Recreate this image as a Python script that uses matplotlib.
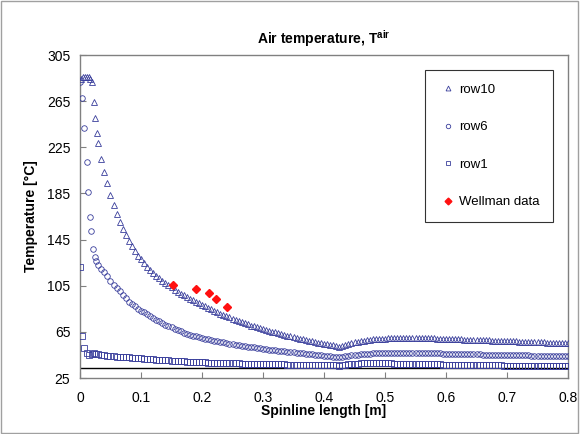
import numpy as np
import matplotlib
matplotlib.use("Agg")
import matplotlib.pyplot as plt
from matplotlib.patches import Rectangle

plt.rcParams['font.family'] = ['Liberation Sans', 'DejaVu Sans']
plt.rcParams['mathtext.fontset'] = 'custom'
plt.rcParams['mathtext.rm'] = 'Liberation Sans'
plt.rcParams['mathtext.bf'] = 'Liberation Sans:bold'

# spinline positions, dense grid after the first few points
x_dense = np.round(np.arange(0.03, 0.8001, 0.005), 3)

# row10 (triangles)
row10_x_start = [0.002, 0.005, 0.008, 0.011, 0.014, 0.017, 0.020, 0.023, 0.025, 0.028]
row10_y_start = [284, 285.5, 286, 286, 285.5, 284.5, 282, 264, 250, 237]
row10_y = [
    229, 215, 204, 194, 184, 175, 167, 160, 154, 149,
    144, 139.5, 135, 131, 128, 124.5, 121.5, 118.5, 116, 113.5,
    111.5, 109.5, 107.5, 105.5, 103.5, 101.5, 99.8, 98.2, 96.7, 95.2,
    93.8, 92.4, 91, 89.6, 88.3, 87, 85.7, 84.4, 83.1, 81.9,
    80.8, 79.7, 78.6, 77.5, 76.4, 75.3, 74.3, 73.3, 72.3, 71.4,
    70.5, 69.7, 68.9, 68.1, 67.3, 66.6, 65.9, 65.2, 64.5, 63.8,
    63.1, 62.4, 61.7, 61, 60.3, 59.7, 59.1, 58.5, 57.9, 57.3,
    56.8, 56.2, 55.7, 55.2, 54.7, 54.2, 53.7, 53.2, 52.7, 52.3,
    52.8, 53.8, 54.7, 55.4, 56, 56.5, 57, 57.4, 57.8, 58.1,
    58.4, 58.6, 58.8, 59, 59.2, 59.3, 59.4, 59.5, 59.6, 59.7,
    59.7, 59.8, 59.8, 59.8, 59.8, 59.7, 59.7, 59.6, 59.5, 59.4,
    59.3, 59.2, 59.1, 59, 58.9, 58.8, 58.7, 58.6, 58.5, 58.4,
    58.3, 58.2, 58.1, 58, 58, 57.9, 57.8, 57.7, 57.6, 57.5,
    57.4, 57.3, 57.2, 57.1, 57, 56.9, 56.8, 56.7, 56.6, 56.5,
    56.4, 56.3, 56.2, 56.1, 56, 55.9, 55.8, 55.7, 55.6, 55.5,
    55.4, 55.3, 55.2, 55.1, 55,
]

# row6 (circles)
row6_x_start = [0.0, 0.004, 0.007, 0.011, 0.013, 0.016, 0.018, 0.021, 0.024, 0.027]
row6_y_start = [282, 268, 242, 212, 186, 165, 152, 137, 130, 126]
row6_y = [
    123, 119.5, 116.5, 113, 109.5, 106, 103, 100, 97, 94,
    91, 89, 87, 85.2, 83.5, 81.8, 80.2, 78.6, 77, 75.5,
    74, 72.5, 71.2, 70, 68.8, 67.6, 66.5, 65.4, 64.4, 63.5,
    62.6, 61.8, 61, 60.3, 59.7, 59.1, 58.5, 57.9, 57.3, 56.8,
    56.3, 55.8, 55.3, 54.8, 54.3, 53.9, 53.5, 53.1, 52.7, 52.3,
    51.9, 51.5, 51.1, 50.7, 50.3, 50, 49.7, 49.4, 49.1, 48.8,
    48.5, 48.2, 47.9, 47.6, 47.3, 47, 46.7, 46.4, 46.1, 45.8,
    45.5, 45.2, 44.9, 44.6, 44.3, 44, 43.7, 43.4, 43.1, 42.8,
    43.2, 43.8, 44.3, 44.7, 45, 45.3, 45.6, 45.8, 46, 46.2,
    46.3, 46.4, 46.5, 46.6, 46.7, 46.7, 46.8, 46.8, 46.8, 46.8,
    46.8, 46.8, 46.7, 46.7, 46.7, 46.6, 46.6, 46.5, 46.5, 46.4,
    46.4, 46.3, 46.3, 46.2, 46.1, 46, 46, 45.9, 45.8, 45.8,
    45.7, 45.6, 45.6, 45.5, 45.4, 45.4, 45.3, 45.3, 45.2, 45.2,
    45.1, 45.1, 45, 45, 44.9, 44.9, 44.8, 44.8, 44.7, 44.7,
    44.6, 44.6, 44.5, 44.5, 44.4, 44.4, 44.3, 44.3, 44.2, 44.2,
    44.1, 44.1, 44, 44, 44,
]

# row1 (squares)
row1_x_start = [0.0, 0.003, 0.007, 0.011, 0.015, 0.019, 0.023, 0.027]
row1_y_start = [121, 61.5, 51, 47, 45, 45.5, 46.5, 46]
row1_y = [
    45.5, 45, 44.6, 44.3, 44, 43.8, 43.6, 43.4, 43.2, 43,
    42.8, 42.6, 42.4, 42.2, 42, 41.8, 41.6, 41.4, 41.2, 41,
    40.8, 40.6, 40.4, 40.2, 40, 39.8, 39.7, 39.5, 39.4, 39.2,
    39.1, 38.9, 38.8, 38.7, 38.6, 38.5, 38.4, 38.3, 38.2, 38.1,
    38, 37.9, 37.8, 37.8, 37.7, 37.6, 37.6, 37.5, 37.4, 37.4,
    37.3, 37.3, 37.2, 37.2, 37.1, 37.1, 37, 37, 36.9, 36.9,
    36.8, 36.8, 36.7, 36.7, 36.6, 36.6, 36.5, 36.5, 36.4, 36.4,
    36.3, 36.3, 36.2, 36.2, 36.1, 36.1, 36, 36, 35.9, 35.8,
    36.2, 36.6, 37, 37.2, 37.4, 37.5, 37.6, 37.6, 37.7, 37.7,
    37.7, 37.7, 37.7, 37.7, 37.6, 37.6, 37.6, 37.5, 37.5, 37.4,
    37.4, 37.3, 37.3, 37.2, 37.2, 37.1, 37.1, 37, 37, 36.9,
    36.9, 36.8, 36.8, 36.7, 36.7, 36.6, 36.6, 36.5, 36.5, 36.4,
    36.4, 36.3, 36.3, 36.2, 36.2, 36.1, 36.1, 36, 36, 36,
    35.9, 35.9, 35.9, 35.8, 35.8, 35.8, 35.7, 35.7, 35.7, 35.6,
    35.6, 35.6, 35.5, 35.5, 35.5, 35.4, 35.4, 35.4, 35.3, 35.3,
    35.3, 35.2, 35.2, 35.2, 35.1,
]

# Wellman measurements
wellman_x = [0.152, 0.19, 0.211, 0.223, 0.241]
wellman_y = [105.6, 102, 98.4, 93.7, 86.8]

ambient_t = 34

yticks = [25, 65, 105, 145, 185, 225, 265, 305]
xticks = [0, 0.1, 0.2, 0.3, 0.4, 0.5, 0.6, 0.7, 0.8]

blue = '#3a3f9c'

fig = plt.figure(figsize=(5.81, 4.34), dpi=100)
ax = fig.add_axes([80 / 581, 1 - 378 / 434, 488 / 581, 323 / 434])

ax.axhline(ambient_t, color='black', lw=1.0, zorder=1)

ax.plot(row10_x_start + list(x_dense), row10_y_start + row10_y, ls='none', marker='^',
        ms=4.4, mfc='none', mec=blue, mew=0.6, label='row10', zorder=3)
ax.plot(row6_x_start + list(x_dense), row6_y_start + row6_y, ls='none', marker='o',
        ms=4.0, mfc='none', mec=blue, mew=0.6, label='row6', zorder=3)
ax.plot(row1_x_start + list(x_dense), row1_y_start + row1_y, ls='none', marker='s',
        ms=3.8, mfc='none', mec=blue, mew=0.6, label='row1', zorder=3)
ax.plot(wellman_x, wellman_y, ls='none', marker='D', ms=4.3, mfc='#ff1010',
        mec='#ff1010', label='Wellman data', zorder=4)

ax.set_xlim(0, 0.8)
ax.set_ylim(25, 305)
ax.set_xticks(xticks)
ax.set_xticklabels(['0', '0.1', '0.2', '0.3', '0.4', '0.5', '0.6', '0.7', '0.8'])
ax.set_yticks(yticks)
ax.tick_params(direction='in', length=4, color='#808080', labelsize=10)
ax.tick_params(axis='x', pad=9)
ax.tick_params(axis='y', pad=7)
for s in ax.spines.values():
    s.set_color('#808080')
    s.set_linewidth(1.0)

ax.set_title(r'Air temperature, T$^{\bf air}$', fontsize=10, fontweight='bold', pad=8)
ax.set_xlabel('Spinline length [m]', fontsize=10, fontweight='bold', labelpad=0)
ax.set_ylabel('Temperature [\u00b0C]', fontsize=10, fontweight='bold', labelpad=6)

leg = ax.legend(loc='upper left', bbox_to_anchor=(0.707, 0.955), fontsize=9.5,
                frameon=True, fancybox=False, edgecolor='black', labelspacing=1.92,
                handlelength=1.4, handletextpad=0.1, borderpad=1.05, markerscale=0.8,
                borderaxespad=0)
leg.get_frame().set_linewidth(0.8)

fig.patches.append(Rectangle((0.002, 0.003), 0.992, 0.994, transform=fig.transFigure,
                             fill=False, ec='#a0a0a0', lw=1.0))

fig.savefig('out.png', dpi=100)
